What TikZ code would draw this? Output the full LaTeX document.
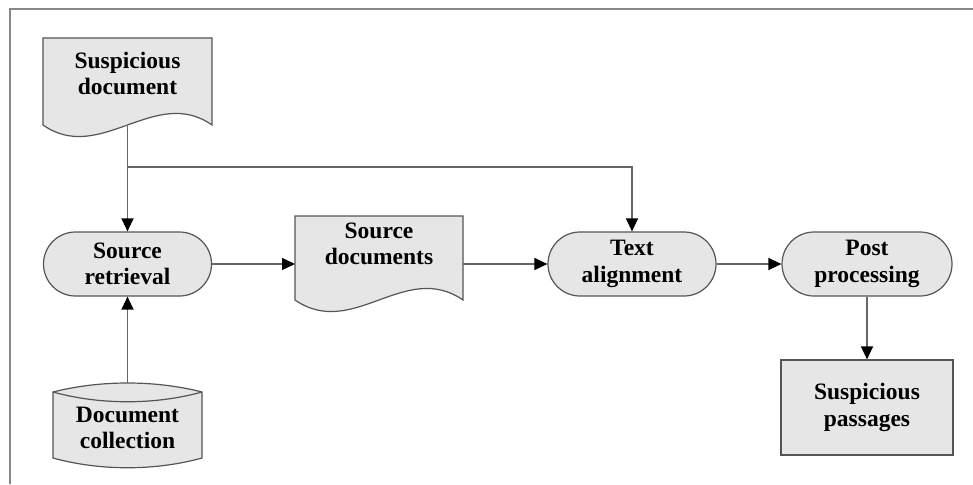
\documentclass[tikz,border=0pt]{standalone}
\usepackage{fontspec}
\setmainfont{Liberation Serif}
\usetikzlibrary{arrows.meta,shapes.misc}

\definecolor{boxfill}{HTML}{E6E6E6}
\definecolor{boxline}{HTML}{555555}
\definecolor{wire}{HTML}{666666}
\definecolor{framegray}{HTML}{888888}

\tikzset{
  label text/.style={font=\bfseries\fontsize{23.5}{26.5}\selectfont, align=center, inner sep=0pt},
  outline/.style={draw=boxline, fill=boxfill, line width=1.2pt},
  stadium/.style={label text, outline, rounded rectangle, minimum width=168pt, minimum height=64pt},
  plainbox/.style={label text, outline, rectangle, minimum width=172pt, minimum height=95pt},
  flow/.style={draw=wire, line width=1.3pt, -{Triangle[length=13pt,width=12pt,color=black]}}
}

\begin{document}
\begin{tikzpicture}[x=1pt, y=-1pt]
  \useasboundingbox (0,0) rectangle (973,484);

  % frame lines along the top and left
  \draw[framegray, line width=1.5pt] (10,484) -- (10,9) -- (973,9);

  % document shape: Suspicious document
  \path[outline] (43,38) -- (212,38) -- (212,125)
    .. controls (155,85) and (100,165) .. (43,125) -- cycle;
  \node[label text] (susp) at (127.5,73.5) {Suspicious\\document};
  \coordinate (suspfoot) at (127.5,126);
  \coordinate (branch) at (127.5,167);

  % document shape: Source documents
  \path[outline] (295,216) -- (463,216) -- (463,300)
    .. controls (405,260) and (353,340) .. (295,300) -- cycle;
  \node[label text] (sdocs) at (379,244) {Source\\documents};
  \coordinate (sdocsW) at (295,264);
  \coordinate (sdocsE) at (463,264);

  % cylinder: Document collection
  \path[outline] (53,392) .. controls (100,380) and (155,380) .. (202,392)
    -- (202,458) .. controls (155,471) and (100,471) .. (53,458) -- cycle;
  \draw[boxline, line width=1.2pt] (53,392) .. controls (100,405) and (155,405) .. (202,392);
  \node[label text] (dcol) at (127.5,428) {Document\\collection};
  \coordinate (dcoltop) at (127.5,383);

  % process steps
  \node[stadium] (sret) at (127.5,264) {Source\\retrieval};
  \node[stadium] (talign) at (632,264) {Text\\alignment};
  \node[stadium, minimum width=170pt] (post) at (867,264) {Post\\processing};
  \node[plainbox] (spass) at (867,407.5) {Suspicious\\passages};

  % connectors
  \draw[flow] (suspfoot) -- (sret.north);
  \draw[flow] (branch) -| (talign.north);
  \draw[flow] (dcoltop) -- (sret.south);
  \draw[flow] (sret.east) -- (sdocsW);
  \draw[flow] (sdocsE) -- (talign.west);
  \draw[flow] (talign.east) -- (post.west);
  \draw[flow] (post.south) -- (spass.north);
\end{tikzpicture}
\end{document}
